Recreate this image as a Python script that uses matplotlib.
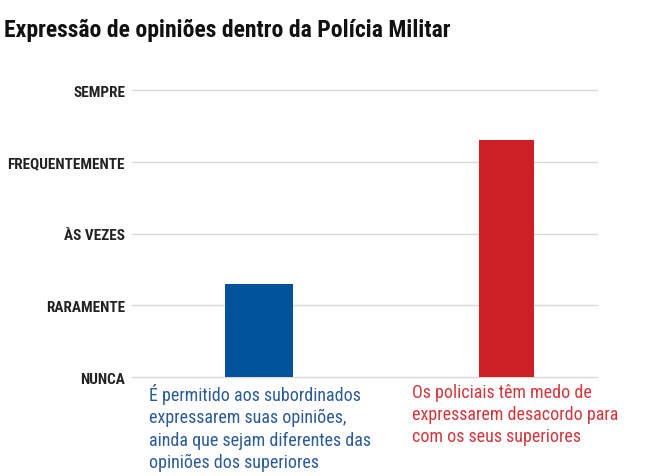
import matplotlib
matplotlib.use("Agg")
import matplotlib.pyplot as plt

title = "Expressão de opiniões dentro da Polícia Militar"
levels = ["NUNCA", "RARAMENTE", "ÀS VEZES", "FREQUENTEMENTE", "SEMPRE"]
statements = [
    "É permitido aos subordinados\nexpressarem suas opiniões,\nainda que sejam diferentes das\nopiniões dos superiores",
    "Os policiais têm medo de\nexpressarem desacordo para\ncom os seus superiores",
]
values = [1.3, 3.3]
bar_colors = ["#00539b", "#cc1f26"]
text_colors = ["#2b5b98", "#d4363c"]

plt.rcParams["font.family"] = ["Roboto Condensed", "Roboto", "DejaVu Sans"]

fig = plt.figure(figsize=(6.5, 4.77), dpi=100)
ax = fig.add_axes([0.203, 0.2075, 0.715, 0.6015])

x = [0, 1]
ax.bar(x, values, width=[0.275, 0.222], color=bar_colors, zorder=3)

ax.set_ylim(0, 4)
ax.set_xlim(-0.513, 1.366)
ax.set_yticks(range(len(levels)))
ax.set_yticklabels(levels, fontsize=11, fontweight="bold", color="#222222")
ax.set_xticks([])
ax.tick_params(axis="y", length=0, pad=5)
ax.grid(axis="y", color="#d9d9d9", linewidth=1, zorder=0)
for gl in ax.get_ygridlines():
    gl.set_clip_on(False)
for s in ax.spines.values():
    s.set_visible(False)

label_x = [149 / 650, 412 / 650]
for lx, txt, c in zip(label_x, statements, text_colors):
    fig.text(lx, 1 - 384 / 477, txt, ha="left", va="top", fontsize=13,
             color=c, linespacing=1.3)

fig.text(4 / 650, 1 - 37 / 477, title, fontsize=17, fontweight="bold",
         color="#111111", ha="left", va="baseline")

fig.savefig("out.png", dpi=100)
